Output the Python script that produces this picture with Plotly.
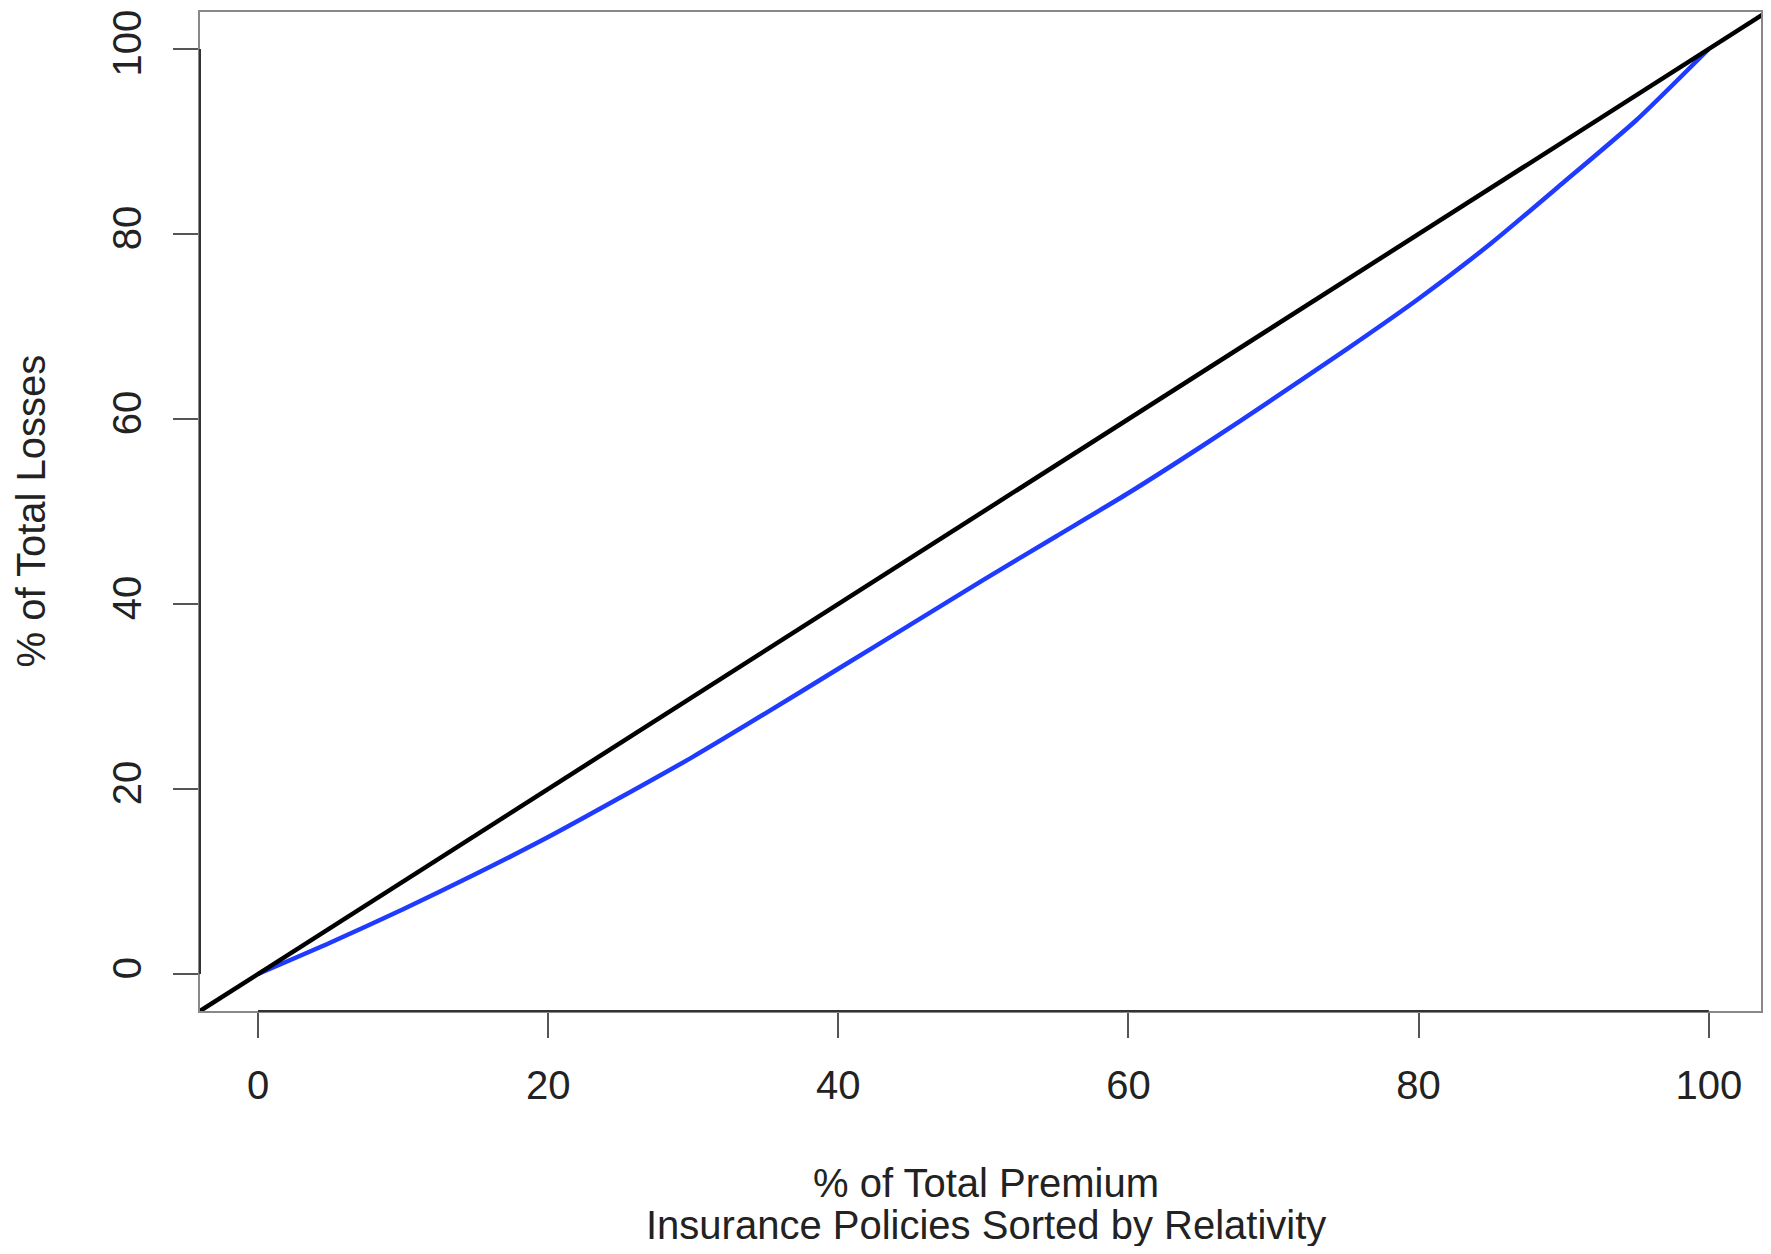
import plotly.graph_objects as go

# Data (Lorenz-style curve)
premium_pct = [0, 5, 10, 15, 20, 25, 30, 35, 40, 45, 50, 55, 60, 65, 70, 75, 80, 85, 90, 95, 100]
losses_pct = [0, 3.4, 7.0, 10.8, 14.8, 19.1, 23.5, 28.2, 33.0, 37.8, 42.6, 47.3, 52.0, 57.0,
              62.2, 67.5, 73.0, 79.0, 85.6, 92.3, 100]
tick_vals = [0, 20, 40, 60, 80, 100]
x_range = [-4, 103.6]
y_range = [-4, 104]

FONT = "Liberation Sans, Arial, Helvetica, sans-serif"
W, H = 1755, 1238
FS = 40

fig = go.Figure()

# blue curve
fig.add_trace(go.Scatter(x=premium_pct, y=losses_pct, mode="lines",
                         line=dict(color="#1f3bff", width=4.5, shape="spline", smoothing=0.6),
                         showlegend=False, hoverinfo="skip"))

# diagonal line y = x across the whole plot region (abline)
fig.add_shape(type="line", xref="x", yref="y",
              x0=y_range[0], y0=y_range[0], x1=y_range[1], y1=y_range[1],
              line=dict(color="black", width=4.5), layer="above")

# axis segments (R-style: from first to last tick)
fig.add_shape(type="line", xref="x", yref="paper", x0=tick_vals[0], x1=tick_vals[-1], y0=0, y1=0,
              line=dict(color="#333", width=2))
fig.add_shape(type="line", xref="paper", yref="y", x0=0, x1=0, y0=tick_vals[0], y1=tick_vals[-1],
              line=dict(color="#333", width=2))

axis_common = dict(tickvals=tick_vals, ticktext=[str(v) for v in tick_vals],
                   ticks="outside", ticklen=25, tickwidth=2, tickcolor="#555",
                   showgrid=False, zeroline=False, showline=True, linecolor="#888",
                   linewidth=2, mirror=True,
                   tickfont=dict(family=FONT, size=FS, color="#222"))

fig.update_xaxes(**axis_common, range=x_range, ticklabelstandoff=13)
fig.update_yaxes(**axis_common, range=y_range, tickangle=-90, ticklabelstandoff=16)

fig.add_annotation(text="% of Total Premium",
                   xref="paper", yref="paper", x=0.5, y=0, xanchor="center", yanchor="middle",
                   xshift=5, yshift=-172, showarrow=False,
                   font=dict(family=FONT, size=FS, color="#222"))
fig.add_annotation(text="Insurance Policies Sorted by Relativity",
                   xref="paper", yref="paper", x=0.5, y=0, xanchor="center", yanchor="middle",
                   xshift=5, yshift=-214, showarrow=False,
                   font=dict(family=FONT, size=FS, color="#222"))
fig.add_annotation(text="% of Total Losses", xref="paper", yref="paper", x=0, y=0.5,
                   xanchor="center", yanchor="middle", xshift=-170, textangle=-90,
                   showarrow=False, font=dict(family=FONT, size=FS, color="#222"))

fig.update_layout(width=W, height=H, margin=dict(l=192, r=0, t=4, b=235),
                  plot_bgcolor="white", paper_bgcolor="white")

fig.write_html("out.html")
